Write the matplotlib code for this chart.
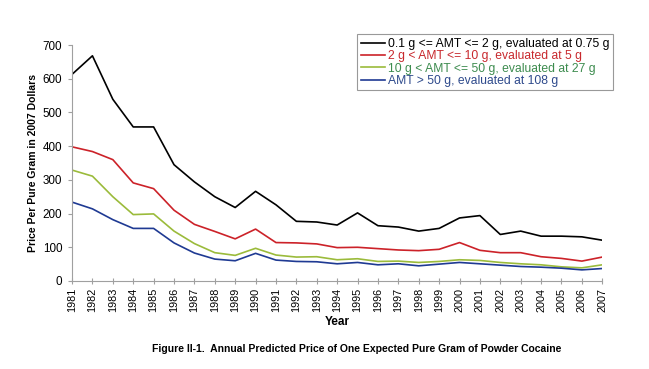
import matplotlib
matplotlib.use("Agg")
import matplotlib.pyplot as plt

plt.rcParams['font.family'] = ['Liberation Sans', 'DejaVu Sans']

years = list(range(1981, 2008))
amt_small = [613, 668, 539, 457, 457, 345, 294, 250, 218, 266, 226, 177, 175,
             166, 202, 164, 160, 148, 156, 187, 194, 138, 148, 133, 133, 131, 121]
amt_mid = [398, 384, 360, 291, 274, 210, 168, 147, 125, 154, 114, 113, 110,
           99, 100, 96, 92, 90, 94, 114, 91, 84, 84, 72, 67, 59, 71]
amt_large = [329, 311, 250, 197, 199, 148, 111, 84, 76, 97, 77, 71, 72,
             63, 66, 58, 59, 55, 58, 63, 61, 55, 51, 48, 42, 39, 48]
amt_xl = [234, 214, 182, 156, 156, 113, 83, 65, 60, 82, 62, 58, 57,
          51, 55, 48, 51, 45, 50, 55, 51, 47, 43, 41, 38, 33, 37]
labels = ["0.1 g <= AMT <= 2 g, evaluated at 0.75 g",
          "2 g < AMT <= 10 g, evaluated at 5 g",
          "10 g < AMT <= 50 g, evaluated at 27 g",
          "AMT > 50 g, evaluated at 108 g"]
line_colors = ["#000000", "#cc2229", "#9bbb3b", "#1f3a93"]
text_colors = ["#000000", "#c8282d", "#3d8c4f", "#2e4a8c"]
yticks = [0, 100, 200, 300, 400, 500, 600, 700]

fig = plt.figure(figsize=(6.49, 3.69), dpi=100)
ax = fig.add_axes([0.111, 0.2385, 0.817, 0.6395])

series = [amt_small, amt_mid, amt_large, amt_xl]
for vals, lab, c in zip(series, labels, line_colors):
    ax.plot(years, vals, color=c, lw=1.2, label=lab)

ax.set_xlim(1981, 2007)
ax.set_ylim(0, 700)
ax.set_xticks(years)
ax.set_xticklabels([str(y) for y in years], rotation=90, fontsize=7.8)
ax.set_yticks(yticks)
ax.set_yticklabels([str(v) for v in yticks], fontsize=8.4)
for s in ['top', 'right']:
    ax.spines[s].set_visible(False)
for s in ['left', 'bottom']:
    ax.spines[s].set_color('#a0a0a0')
    ax.spines[s].set_linewidth(0.8)
ax.tick_params(axis='x', direction='inout', length=4, color='#a0a0a0', pad=3)
ax.tick_params(axis='y', direction='out', length=3, color='#a0a0a0', pad=4)

ax.set_xlabel("Year", fontsize=8.5, fontweight='bold', labelpad=3)
ax.set_ylabel("Price Per Pure Gram in 2007 Dollars", fontsize=7.5, fontweight='bold', labelpad=3.5)

leg = ax.legend(loc='upper left', bbox_to_anchor=(0.538, 1.045), fontsize=8.7,
                frameon=True, fancybox=False, handlelength=2.0, handletextpad=0.2,
                borderpad=0.3, labelspacing=0.02, borderaxespad=0)
leg.get_frame().set_edgecolor('#808080')
leg.get_frame().set_linewidth(0.8)
for t, c in zip(leg.get_texts(), text_colors):
    t.set_color(c)

fig.text(0.55, 0.054, "Figure II-1.  Annual Predicted Price of One Expected Pure Gram of Powder Cocaine",
         ha='center', va='center', fontsize=7.5, fontweight='bold')

fig.savefig("out.png", dpi=100)
